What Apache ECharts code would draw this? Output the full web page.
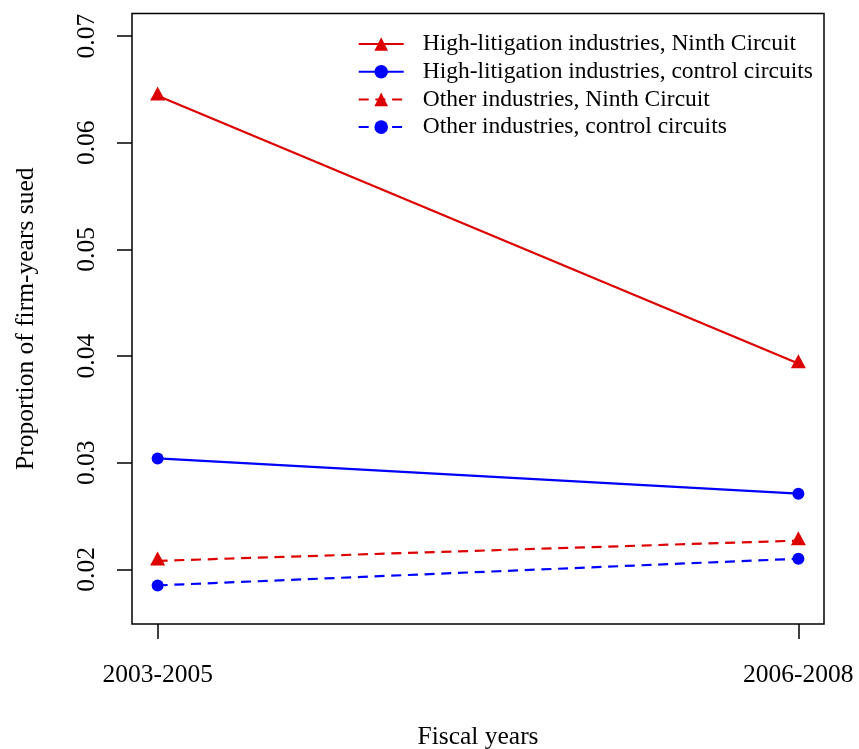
<!DOCTYPE html>
<html>
<head>
<meta charset="utf-8">
<script src="https://cdn.jsdelivr.net/npm/echarts@6/dist/echarts.min.js"></script>
<style>html,body{margin:0;padding:0;background:#fff;}#c{width:859px;height:749px;}</style>
</head>
<body>
<div id="c"></div>
<script>
const categories = ['2003-2005', '2006-2008'];
const highNinth = [0.0644, 0.0393];
const highControl = [0.0304, 0.0271];
const otherNinth = [0.0208, 0.0227];
const otherControl = [0.0185, 0.0210];
const yTicks = [0.02, 0.03, 0.04, 0.05, 0.06, 0.07];
const seriesNames = [
  'High-litigation industries, Ninth Circuit',
  'High-litigation industries, control circuits',
  'Other industries, Ninth Circuit',
  'Other industries, control circuits'
];

const RED = '#DD0000', BLUE = '#0000FF';
const FONT = 'Liberation Serif';
const toXY = arr => arr.map((v, i) => [i, v]);

function mk(name, data, color, dashed, symbol) {
  const tri = symbol === 'triangle';
  return {
    name, type: 'line', data: toXY(data),
    symbol, symbolSize: tri ? [15, 14] : 12,
    symbolOffset: tri ? [0, -2.3] : [0, 0],
    itemStyle: { color },
    lineStyle: { color, width: 2.2, type: dashed ? [10, 6.7] : 'solid' },
    emphasis: { disabled: true }, animation: false
  };
}

const chart = echarts.init(document.getElementById('c'), null, { renderer: 'canvas' });
chart.setOption({
  animation: false,
  backgroundColor: '#fff',
  grid: { left: 132, top: 13.5, right: 35, bottom: 125, outerBoundsMode: 'none', containLabel: false, show: true, borderColor: '#000', borderWidth: 1.5, backgroundColor: 'transparent' },
  legend: {
    right: 41, top: 27, orient: 'vertical', itemWidth: 45, itemHeight: 17, itemGap: 3.7,
    textStyle: { fontFamily: FONT, fontSize: 23.5, color: '#000', padding: [0, 0, 0, 14] },
    data: seriesNames
  },
  xAxis: {
    type: 'value', min: -0.04, max: 1.04,
    axisLine: { show: false, onZero: false }, splitLine: { show: false },
    axisTick: { show: true, inside: false, length: 15, customValues: [0, 1], lineStyle: { color: '#000', width: 1.5 } },
    axisLabel: { customValues: [0, 1], formatter: v => categories[Math.round(v)], fontFamily: FONT, fontSize: 25.5, color: '#000', margin: 38 },
    name: 'Fiscal years', nameLocation: 'middle', nameGap: 100,
    nameTextStyle: { fontFamily: FONT, fontSize: 25.5, color: '#000' }
  },
  yAxis: {
    type: 'value', min: 0.01488, max: 0.07212,
    axisLine: { show: false, onZero: false }, splitLine: { show: false },
    axisTick: { show: true, inside: false, length: 15, customValues: yTicks, lineStyle: { color: '#000', width: 1.5 } },
    axisLabel: { customValues: yTicks, rotate: 90, formatter: v => v.toFixed(2), fontFamily: FONT, fontSize: 25.5, color: '#000', margin: 32 },
    name: 'Proportion of firm-years sued', nameLocation: 'middle', nameGap: 93, nameRotate: 90,
    nameTextStyle: { fontFamily: FONT, fontSize: 25.5, color: '#000' }
  },
  series: [
    mk(seriesNames[0], highNinth, RED, false, 'triangle'),
    mk(seriesNames[1], highControl, BLUE, false, 'circle'),
    mk(seriesNames[2], otherNinth, RED, true, 'triangle'),
    mk(seriesNames[3], otherControl, BLUE, true, 'circle')
  ]
});
</script>
</body>
</html>
